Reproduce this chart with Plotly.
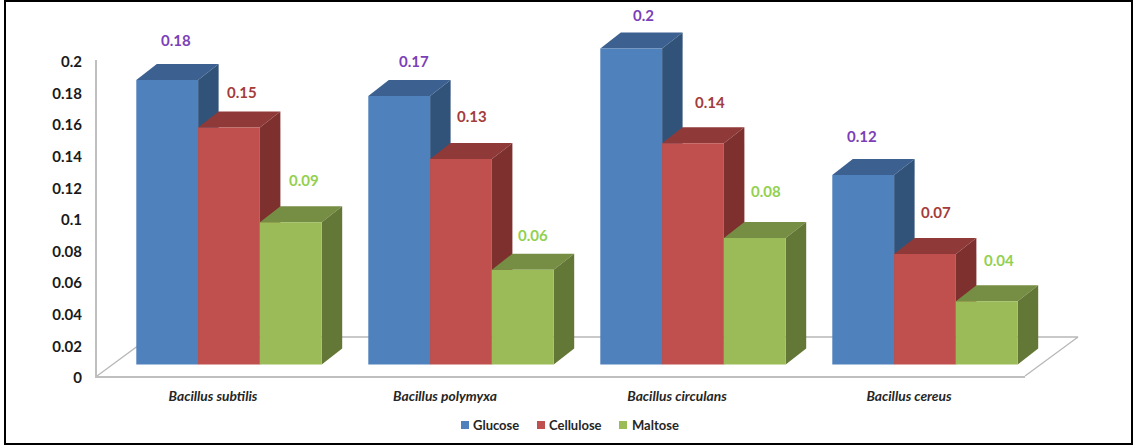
import plotly.graph_objects as go

# Chart data
categories = ["Bacillus subtilis", "Bacillus polymyxa", "Bacillus circulans", "Bacillus cereus"]
sugars = ["Glucose", "Cellulose", "Maltose"]
glucose = [0.18, 0.17, 0.2, 0.12]
cellulose = [0.15, 0.13, 0.14, 0.07]
maltose = [0.09, 0.06, 0.08, 0.04]
y_ticks = [0, 0.02, 0.04, 0.06, 0.08, 0.1, 0.12, 0.14, 0.16, 0.18, 0.2]

# Face colours per series: front, top, side
front_colors = ["#4f81bd", "#c0504d", "#9bbb59"]
top_colors = ["#3c6191", "#8f3a38", "#768e43"]
side_colors = ["#325379", "#7d302e", "#637736"]
label_colors = ["#7b3fb8", "#a33c3a", "#92d050"]

# Pixel nudges for the value labels, one row per series
label_dx = [[9, 15, 12, -1], [13, 11, 17, 11], [13, 10, 11, 12]]
label_dy = [[40, 35, 34, 39], [36, 43, 41, 42], [42, 35, 47, 41]]

# Canvas and axis box in pixels
W, H = 1133, 445
L, R, T, B = 97, 1025, 60, 376
PX_X = 232.0              # pixels per category
PX_Y = (B - T) / 0.2      # pixels per unit of value

series = [glucose, cellulose, maltose]
bar_w = 61.8 / PX_X
lift_x, lift_y = 16 / PX_X, 11.5 / PX_Y        # bars stand inside the floor
depth_x, depth_y = 20.5 / PX_X, 16 / PX_Y      # extrusion of each bar
floor_x, floor_y = 53 / PX_X, 39 / PX_Y        # depth of the floor
FONT = "Lato, Carlito, Calibri, sans-serif"

# Axis ranges for subplots that span the whole canvas, on the same scale as the axis box
full_x = [-0.5 - L / PX_X, 3.5 + (W - R) / PX_X]
full_y = [-(H - B) / PX_Y, 0.2 + T / PX_Y]

fig = go.Figure()

# Floor outline
fig.add_trace(go.Scatter(
    x=[-0.5, -0.5 + floor_x, 3.5 + floor_x, 3.5],
    y=[0, floor_y, floor_y, 0],
    mode="lines", line=dict(color="#b8b8b8", width=1.3),
    xaxis="x2", yaxis="y2", hoverinfo="skip", showlegend=False,
))

# Tops and sides of the bars
for s, values in enumerate(series):
    for i, v in enumerate(values):
        cx = i + (s - 1) * bar_w + lift_x
        x0, x1 = cx - bar_w / 2, cx + bar_w / 2
        top = v + lift_y
        fig.add_trace(go.Scatter(
            x=[x0, x0 + depth_x, x1 + depth_x, x1, x0],
            y=[top, top + depth_y, top + depth_y, top, top],
            mode="lines", fill="toself", fillcolor=top_colors[s],
            line=dict(width=0), hoverinfo="skip", showlegend=False,
            xaxis="x2", yaxis="y2",
        ))
        fig.add_trace(go.Scatter(
            x=[x1, x1 + depth_x, x1 + depth_x, x1, x1],
            y=[top, top + depth_y, lift_y + depth_y, lift_y, top],
            mode="lines", fill="toself", fillcolor=side_colors[s],
            line=dict(width=0), hoverinfo="skip", showlegend=False,
            xaxis="x2", yaxis="y2",
        ))

# Front faces sit on a later subplot so they cover the extrusions
for s, values in enumerate(series):
    fig.add_trace(go.Bar(
        x=[i + (s - 1) * bar_w + lift_x for i in range(len(values))],
        y=values, base=lift_y, width=bar_w, name=sugars[s],
        marker=dict(color=front_colors[s], line=dict(width=0)),
        xaxis="x3", yaxis="y3", showlegend=False,
    ))

annotations = []

# Value labels above each bar
for s, values in enumerate(series):
    for i, v in enumerate(values):
        annotations.append(dict(
            x=i + (s - 1) * bar_w + lift_x, y=v + lift_y,
            xref="x3", yref="y3", text=f"<b>{v:g}</b>", showarrow=False,
            xanchor="center", yanchor="middle",
            xshift=label_dx[s][i], yshift=label_dy[s][i],
            font=dict(family=FONT, size=15, color=label_colors[s]),
        ))


def px(x):
    return x / W


def py(y):
    return 1 - y / H


# Outer frame and a hand-placed legend under the chart
shapes = [dict(
    type="rect", xref="paper", yref="paper", layer="below",
    x0=px(5), x1=px(1132), y0=py(444), y1=py(1),
    line=dict(color="#000000", width=2), fillcolor="#ffffff",
)]
legend_swatch = [461, 537, 619]
legend_text = [472, 548, 631]
for s, name in enumerate(sugars):
    x = legend_swatch[s]
    shapes.append(dict(
        type="rect", xref="paper", yref="paper",
        x0=px(x), x1=px(x + 8), y0=py(429), y1=py(421),
        line=dict(width=0), fillcolor=front_colors[s],
    ))
    annotations.append(dict(
        x=px(legend_text[s]), y=py(424.5), xref="paper", yref="paper",
        text=f"<b>{name}</b>", showarrow=False, xanchor="left", yanchor="middle",
        xshift=-1,
        font=dict(family=FONT, size=13, color="#262626"),
    ))

hidden = dict(visible=False, showgrid=False, zeroline=False, fixedrange=True)

fig.update_layout(
    width=W, height=H, autosize=False,
    margin=dict(l=0, r=0, t=0, b=0, pad=0, autoexpand=False),
    paper_bgcolor="#ffffff", plot_bgcolor="rgba(0,0,0,0)",
    barmode="overlay", showlegend=False,
    shapes=shapes, annotations=annotations,
    xaxis=dict(
        domain=[L / W, R / W], anchor="y",
        range=[-0.5, 3.5], tickmode="array", tickvals=[0, 1, 2, 3], ticktext=categories,
        showgrid=False, zeroline=False, showline=True, linecolor="#bfbfbf", linewidth=2,
        ticks="", ticklabelstandoff=6,
        tickfont=dict(family=FONT, size=13.8, color="#262626", weight="bold", style="italic"),
    ),
    yaxis=dict(
        domain=[1 - B / H, 1 - T / H], anchor="x",
        range=[0, 0.2], tickmode="array", tickvals=y_ticks,
        ticktext=[f"{t:g}" for t in y_ticks],
        showgrid=False, zeroline=False, showline=True, linecolor="#bfbfbf", linewidth=2,
        ticks="", ticklabelstandoff=10, ticklabelshift=2,
        tickfont=dict(family=FONT, size=15, color="#1a1a1a", weight="bold"),
    ),
    xaxis2=dict(domain=[0, 1], range=full_x, anchor="y2", **hidden),
    yaxis2=dict(domain=[0, 1], range=full_y, anchor="x2", **hidden),
    xaxis3=dict(domain=[0, 1], range=full_x, anchor="y3", **hidden),
    yaxis3=dict(domain=[0, 1], range=full_y, anchor="x3", **hidden),
)

# Primary axes need a trace to be drawn
fig.add_trace(go.Scatter(x=[0], y=[0], mode="markers", marker=dict(opacity=0),
                         hoverinfo="skip", showlegend=False))

fig.write_html("out.html")
